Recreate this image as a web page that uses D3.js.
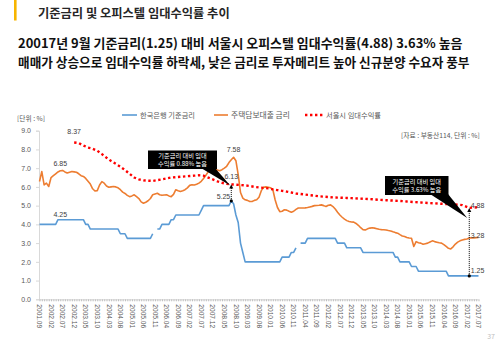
<!DOCTYPE html>
<html><head><meta charset="utf-8">
<script src="https://cdn.jsdelivr.net/npm/d3@7"></script>
<style>
body{margin:0;background:#fff;}
svg{display:block;font-family:"Noto Sans CJK KR","Noto Sans",sans-serif;}
</style>
</head><body>
<svg id="c" width="500" height="341"></svg>
<script>
// ---------- DATA ----------
const firstMonth = "2001.09";
const monthCount = 191; // 2001.09 .. 2017.07
const tickLabels = ["2001.09","2002.02","2002.07","2002.12","2003.05","2003.10","2004.03","2004.08","2005.01","2005.06","2005.11","2006.04","2006.09","2007.02","2007.07","2007.12","2008.05","2008.10","2009.03","2009.08","2010.01","2010.06","2010.11","2011.04","2011.09","2012.02","2012.07","2012.12","2013.05","2013.10","2014.03","2014.08","2015.01","2015.06","2015.11","2016.04","2016.09","2017.02","2017.07"];
const yTicks = [0,1,2,3,4,5,6,7,8,9];
const seriesNames = ["한국은행 기준금리","주택담보대출 금리","서울시 임대수익률"];

// 한국은행 기준금리 (monthly, null = gap)
const baseRate = [
4.0,4.0,4.0,4.0,4.0,4.0,4.0,4.0,
4.25,4.25,4.25,4.25,4.25,4.25,4.25,4.25,4.25,4.25,4.25,4.25,
4.0,4.0,
3.75,3.75,3.75,3.75,3.75,3.75,3.75,3.75,3.75,3.75,3.75,3.75,3.75,
3.5,3.5,3.5,
3.25,3.25,3.25,3.25,3.25,3.25,3.25,3.25,3.25,3.25,3.25,
3.5,null,3.75,3.75,
4.0,4.0,4.0,4.0,
4.25,4.25,
4.5,4.5,4.5,4.5,4.5,4.5,4.5,4.5,4.5,4.5,4.5,
4.75,
5.0,5.0,5.0,5.0,5.0,5.0,5.0,5.0,5.0,5.0,5.0,5.0,
5.25,5.1,4.5,4.1,3.0,2.5,
2.0,2.0,2.0,2.0,2.0,2.0,2.0,2.0,2.0,2.0,2.0,2.0,2.0,2.0,2.0,2.0,
2.25,2.25,2.25,2.25,
2.5,2.5,2.75,null,
3.0,3.0,3.0,
3.25,3.25,3.25,3.25,3.25,3.25,3.25,3.25,3.25,3.25,3.25,3.25,3.25,
3.0,3.0,3.0,3.0,
2.75,2.75,2.75,2.75,2.75,2.75,2.75,
2.5,2.5,2.5,2.5,2.5,2.5,2.5,2.5,2.5,2.5,2.5,2.5,2.5,2.5,
2.25,2.25,
2.0,2.0,2.0,2.0,2.0,
1.75,1.75,1.75,
1.5,1.5,1.5,1.5,1.5,1.5,1.5,1.5,1.5,1.5,1.5,1.5,1.5,
1.25,1.25,1.25,1.25,1.25,1.25,1.25,1.25,1.25,1.25,1.25,1.25,1.25,1.25
];

// 주택담보대출 금리 (monthly)
const mortgageRate = [
6.29,6.82,6.11,6.2,6.02,6.5,6.6,6.7,6.8,6.86,
6.88,6.8,6.74,6.78,6.82,6.8,6.78,6.7,6.6,6.56,
6.45,6.3,6.15,5.9,5.78,5.8,6.1,6.28,6.2,6.05,
5.98,6.0,6.02,6.0,5.95,5.85,5.72,5.65,5.55,5.48,
5.52,5.58,5.48,5.38,5.2,5.13,5.18,5.26,5.38,5.58,
5.62,5.66,5.58,5.55,5.57,5.58,5.52,5.48,5.6,5.85,
5.8,5.76,5.8,5.85,5.95,6.08,6.11,6.1,6.14,6.2,
6.3,6.45,6.62,6.8,6.9,6.95,6.95,6.9,6.86,6.92,
7.0,7.1,7.3,7.45,7.58,7.4,6.65,5.7,5.4,5.31,
5.28,5.22,5.22,5.28,5.31,5.45,5.8,5.98,6.0,5.98,
5.95,5.85,5.3,4.9,4.68,4.7,4.78,4.76,4.7,4.65,
4.7,4.8,4.87,4.87,4.87,4.88,4.9,4.93,4.96,5.0,
5.01,5.02,5.04,5.0,4.95,5.02,5.04,4.95,4.82,4.65,
4.5,4.38,4.28,4.2,4.15,4.13,4.12,4.05,3.95,3.82,
3.72,3.7,3.76,3.8,3.82,3.8,3.77,3.74,3.72,3.71,
3.7,3.67,3.65,3.6,3.56,3.53,3.45,3.38,3.35,3.3,
3.27,3.26,2.82,3.08,3.02,3.0,2.94,2.97,3.0,3.06,
3.12,3.08,3.05,3.02,3.0,2.92,2.82,2.72,2.69,2.8,
2.95,3.05,3.12,3.17,3.2,3.22,3.28,3.28,3.28,3.29,
3.3
];

// 서울시 임대수익률
const yieldMonths = ["2002.12","2003.02","2003.04","2003.06","2003.08","2003.10","2003.12","2004.02","2004.04","2004.06","2004.08","2004.10","2004.12","2005.02","2005.04","2005.06","2005.08","2005.10","2005.12","2006.02","2006.04","2006.06","2006.08","2006.10","2006.12","2007.02","2007.04","2007.06","2007.08","2007.10","2007.12","2008.02","2008.04","2008.06","2008.08","2008.10","2008.12","2009.02","2009.04","2009.06","2009.08","2009.10","2009.12","2010.02","2010.04","2010.06","2010.08","2010.10","2010.12","2011.02","2011.04","2011.06","2011.08","2011.10","2011.12","2012.02","2012.04","2012.06","2012.08","2012.10","2012.12","2013.03","2013.06","2013.09","2013.12","2014.03","2014.06","2014.09","2014.12","2015.03","2015.06","2015.09","2015.12","2016.03","2016.06","2016.09","2016.12","2017.03","2017.05","2017.07"];
const yieldValues = [8.37,8.34,8.21,8.1,8.04,7.93,7.75,7.56,7.38,7.23,7.08,6.9,6.7,6.5,6.4,6.35,6.33,6.32,6.36,6.4,6.45,6.5,6.52,6.54,6.56,6.58,6.6,6.62,6.6,6.5,6.4,6.3,6.22,6.16,6.13,6.12,6.1,6.08,6.05,6.0,5.97,5.95,5.92,5.87,5.83,5.79,5.75,5.7,5.65,5.62,5.59,5.56,5.53,5.5,5.48,5.46,5.44,5.43,5.42,5.41,5.4,5.38,5.36,5.34,5.31,5.29,5.27,5.25,5.22,5.19,5.17,5.14,5.12,5.1,5.08,5.06,5.03,4.88,4.9,4.92];

// labelled peaks
const peakMonths = ["2002.12","2002.06","2002.06","2008.09"];
const peakValues = [8.37,6.85,4.25,7.58];
// gap annotations
const gapMonths = ["2008.08","2017.03"];
const gapLow = [5.25,1.25];
const gapHigh = [6.13,4.88];
const gapMid = [null,3.28];
const gapNotes = [["기준금리 대비 임대","수익률 0.88% 높음"],["기준금리 대비 임대","수익률 3.63% 높음"]];

// ---------- BUILD ----------
const months = [];
{
  const [y0,m0] = firstMonth.split(".").map(Number);
  for (let i=0;i<monthCount;i++){ const m=m0-1+i; months.push(`${y0+Math.floor(m/12)}.${String(m%12+1).padStart(2,"0")}`); }
}
const svg = d3.select("#c");
const x = d3.scalePoint().domain(months).range([39.5,478.5]);
const y = d3.scaleLinear().domain([0,9]).range([299.3,130.7]);

const C = {blue:"#5b9bd5", orange:"#ed7d31", red:"#ff0000", axis:"#d9d9d9", txt:"#595959"};

function fit(sel, w){ const n=sel.node(); const fs=parseFloat(sel.attr("font-size")); const cw=n.getComputedTextLength(); if(cw>0) sel.attr("font-size", fs*w/cw); return sel; }

// header
svg.append("rect").attr("x",14).attr("y",0).attr("width",2.6).attr("height",20.5).attr("fill","#f7b500");
fit(svg.append("text").attr("x",38).attr("y",18).attr("font-size",11).attr("font-weight",700).attr("fill","#262626").text("기준금리 및 오피스텔 임대수익률 추이"),192);
fit(svg.append("text").attr("x",18).attr("y",48).attr("font-size",13).attr("font-weight",700).attr("fill","#111").text("20017년 9월 기준금리(1.25) 대비 서울시 오피스텔 임대수익률(4.88) 3.63% 높음"),445);
fit(svg.append("text").attr("x",18).attr("y",67).attr("font-size",13).attr("font-weight",700).attr("fill","#111").text("매매가 상승으로 임대수익률 하락세, 낮은 금리로 투자메리트 높아 신규분양 수요자 풍부"),452);

// notes
fit(svg.append("text").attr("x",17).attr("y",121).attr("font-size",6.5).attr("fill",C.txt).text("[단위 : %]"),28);
fit(svg.append("text").attr("x",401).attr("y",137.5).attr("font-size",6.5).attr("fill",C.txt).text("[자료 : 부동산114, 단위 : %]"),79);
svg.append("text").attr("x",495).attr("y",339).attr("text-anchor","end").attr("font-size",7).attr("fill","#bfbfbf").text("37");

// legend
const lg = svg.append("g");
const legendPos = [{lx:122,tx:140,w:55},{lx:214,tx:231,w:59},{lx:305,tx:326,w:55}];
legendPos.forEach((p,i)=>{
  const ln = lg.append("line").attr("x1",p.lx).attr("x2",p.tx-3).attr("y1",115).attr("y2",115);
  if(i===0) ln.attr("stroke",C.blue).attr("stroke-width",1.6);
  if(i===1) ln.attr("stroke",C.orange).attr("stroke-width",1.6);
  if(i===2) ln.attr("stroke",C.red).attr("stroke-width",2.4).attr("stroke-dasharray","2.4,2.6");
  fit(lg.append("text").attr("x",p.tx).attr("y",117.5).attr("font-size",7).attr("fill",C.txt).text(seriesNames[i]),p.w);
});

// axes
const yAxis = svg.append("g").attr("transform","translate(39,0)")
  .call(d3.axisLeft(y).tickValues(yTicks).tickFormat(d3.format(".1f")).tickSize(3).tickPadding(5));
yAxis.select(".domain").attr("stroke",C.axis);
yAxis.selectAll(".tick line").attr("stroke",C.axis);
yAxis.selectAll("text").attr("font-size",7).attr("fill",C.txt).attr("font-family","Liberation Sans, Arial, sans-serif");

const xAxis = svg.append("g").attr("transform",`translate(0,${y(0)})`)
  .call(d3.axisBottom(x).tickValues(months).tickSize(2).tickFormat(""));
xAxis.select(".domain").attr("stroke",C.axis).attr("d",`M39,0.5H478.5`);
xAxis.selectAll(".tick line").attr("stroke","#bfbfbf");
svg.append("g").selectAll("text").data(tickLabels).join("text")
  .attr("transform",d=>`translate(${x(d)},${y(0)+5}) rotate(90)`)
  .attr("dy","0.35em").attr("font-size",6.6).attr("fill",C.txt)
  .attr("font-family","Liberation Sans, Arial, sans-serif").text(d=>d);

// lines
const line = d3.line().defined(d=>d[1]!=null).x(d=>x(d[0])).y(d=>y(d[1]));
svg.append("path").datum(months.map((m,i)=>[m,mortgageRate[i]]))
  .attr("d",line).attr("fill","none").attr("stroke",C.orange).attr("stroke-width",1.6).attr("stroke-linejoin","round");
svg.append("path").datum(months.map((m,i)=>[m,baseRate[i]]))
  .attr("d",line).attr("fill","none").attr("stroke",C.blue).attr("stroke-width",1.6).attr("stroke-linejoin","round");
svg.append("path").datum(yieldMonths.map((m,i)=>[m,yieldValues[i]]))
  .attr("d",line).attr("fill","none").attr("stroke",C.red).attr("stroke-width",2.4).attr("stroke-dasharray","2.4,2.6");

// peak labels
const peakDy = [-9,-5,-3,-5];
peakMonths.forEach((m,i)=>{
  svg.append("text").attr("x",x(m)).attr("y",y(peakValues[i])+peakDy[i]).attr("text-anchor","middle")
    .attr("font-size",7).attr("fill","#404040").attr("font-family","Liberation Sans, Arial, sans-serif")
    .text(peakValues[i].toFixed(2));
});

// gap annotations
gapMonths.forEach((m,i)=>{
  const gx = x(m), yl = y(gapLow[i]), yh = y(gapHigh[i]);
  svg.append("line").attr("x1",gx).attr("x2",gx).attr("y1",yl).attr("y2",yh+3)
    .attr("stroke","#000").attr("stroke-width",1).attr("stroke-dasharray","1,1");
  svg.append("path").attr("d",`M${gx},${yh}l-2,4h4z`).attr("fill","#000");
  svg.append("circle").attr("cx",gx).attr("cy",yl).attr("r",1.6).attr("fill","#000");
  const lab = (v,yy,side)=>svg.append("text").attr("x",side<0?gx-1:gx+1.5).attr("y",yy)
    .attr("text-anchor",side<0?"end":"start").attr("font-size",7).attr("fill","#404040")
    .attr("font-family","Liberation Sans, Arial, sans-serif").text(v.toFixed(2));
  if(i===0){
    svg.append("text").attr("x",gx).attr("y",yh-5).attr("text-anchor","middle").attr("font-size",7).attr("fill","#404040")
      .attr("font-family","Liberation Sans, Arial, sans-serif").text(gapHigh[i].toFixed(2));
    lab(gapLow[i],yl-2,-1);
  } else {
    lab(gapHigh[i],yh+0.5,1);
    lab(gapMid[i],y(gapMid[i])+0.5,1);
    lab(gapLow[i],yl-3,1);
  }
});

// callouts
const boxes = [
  {x:148,y:150.5,w:69,h:18.5, base:[201,215], tip:[x(gapMonths[0])-1, y(gapHigh[0])+1]},
  {x:385,y:176,w:63.5,h:19, base:[430,448], tip:[x(gapMonths[1])-2, y(gapHigh[1])+10]}
];
boxes.forEach((b,i)=>{
  svg.append("path").attr("d",`M${b.base[0]},${b.y+b.h-1}L${b.tip[0]},${b.tip[1]}L${b.base[1]},${b.y+b.h-1}Z`).attr("fill","#000");
  svg.append("rect").attr("x",b.x).attr("y",b.y).attr("width",b.w).attr("height",b.h).attr("fill","#000");
  gapNotes[i].forEach((t,j)=>{
    svg.append("text").attr("x",b.x+b.w/2).attr("y",b.y+b.h/2 + (j===0?-1.6:6.6)).attr("text-anchor","middle")
      .attr("font-size",6.2).attr("fill","#fff").text(t);
  });
});
</script>
</body></html>
